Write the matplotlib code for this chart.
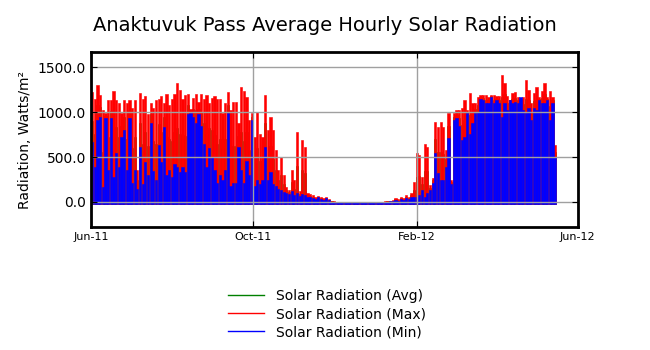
import matplotlib as mpl
mpl.use("Agg")
import matplotlib.pyplot as plt
import matplotlib.dates as mdates
from matplotlib.lines import Line2D
import numpy as np

# Two-day peak readings, starting 1 Jun 2011 (W/m^2)
start_date = np.datetime64("2011-06-01")
bin_days = 2

solar_max = [
    1220, 1150, 1300, 1190, 1020, 990, 1130, 1130, 1240, 1130, 1100, 990, 1130,
    1100, 1130, 1050, 1130, 360, 1210, 1150, 1180, 980, 1100, 1050, 1130,
    1150, 1180, 1100, 1200, 1080, 1150, 1200, 1320, 1250, 1150, 1190, 1200, 1040,
    1160, 1200, 1110, 1200, 1150, 1190, 1100, 1160, 1180, 1150, 1150, 990,
    1100, 1220, 1020, 1110, 1110, 880, 1280, 1240, 1170, 910, 990, 720, 1000,
    760, 720, 1190, 800, 950, 800, 580, 360, 500, 300, 170, 130,
    360, 250, 780, 120, 690, 610, 100, 90, 80, 60, 70, 50, 40, 50, 30, 10,
    8, 5, 3, 2, 0, 0, 0, 0, 0, 0, 0, 0, 0, 0, 0, 0, 0, 2, 4, 6, 10, 15, 20,
    40, 30, 55, 40, 80, 60, 100, 220, 540, 520, 280, 650, 610, 190, 270, 890,
    830, 890, 830, 580,
    990, 240, 990, 1020, 1020, 1050, 1130, 1020, 1210, 1100, 1100, 1170, 1190,
    1190, 1190, 1170, 1190, 1190, 1180, 1180, 1410, 1320,
    1180, 1130, 1210, 1220, 1170, 1140, 1170, 1360, 1250, 1100, 1210, 1280, 1170,
    1230, 1320, 1170, 1240, 1170, 630,
]

solar_min = [
    670, 390, 910, 950, 170, 930, 360, 930, 280, 540, 390, 720, 800, 360, 930,
    210, 360, 150, 610, 200, 450, 300, 880, 350, 240,
    630, 450, 830, 300, 360, 280, 420, 390, 330, 390, 330, 980, 990, 950, 880,
    980, 840, 650, 390, 600, 500, 360, 210, 300, 250,
    360, 990, 180, 210, 210, 610, 360, 210, 460, 300, 910, 180, 250, 200, 250,
    610, 250, 330, 200, 180, 150, 130, 110, 100, 90,
    120, 80, 100, 70, 90, 80, 60, 50, 40, 30, 50, 30, 20, 40, 20, 5,
    3, 2, 1, 0, 0, 0, 0, 0, 0, 0, 0, 0, 0, 0, 0, 0, 0, 0, 1, 2, 4, 6, 10,
    20, 10, 30, 20, 40, 30, 50, 60, 50, 80, 130, 60, 100, 130, 210, 540, 320,
    250, 250, 390,
    710, 200, 910, 930, 850, 690, 720, 990, 760, 880, 990, 1000, 1150, 1130,
    1100, 1100, 1170, 1100, 1130, 1100, 950, 1100,
    1020, 1130, 1100, 1110, 1100, 1170, 1020, 990, 1050, 910, 1050, 1020, 1130,
    1100, 1100, 1130, 910, 1100, 500,
]

solar_avg = [
    900, 760, 1080, 1060, 560, 960, 720, 1010, 720, 830, 720, 850, 940, 700,
    1010, 600, 720, 250, 880, 640, 780, 620, 980, 680, 650,
    870, 780, 940, 720, 700, 680, 780, 820, 760, 740, 730, 1080, 1010, 1040,
    1020, 1030, 1000, 880, 760, 820, 800, 740, 640, 700, 600,
    700, 1080, 560, 620, 620, 730, 780, 680, 780, 580, 940, 430, 600, 460, 460,
    880, 500, 620, 480, 360, 240, 300, 200, 130, 110,
    220, 150, 400, 90, 360, 320, 80, 70, 60, 45, 60, 40, 30, 45, 25, 8,
    5, 3, 2, 1, 0, 0, 0, 0, 0, 0, 0, 0, 0, 0, 0, 0, 0, 1, 2, 4, 7, 10, 15,
    30, 20, 40, 30, 60, 45, 75, 130, 280, 290, 200, 340, 340, 160, 240, 700,
    560, 560, 530, 480,
    850, 220, 950, 970, 930, 860, 910, 1000, 970, 990, 1040, 1080, 1170, 1160,
    1140, 1130, 1180, 1140, 1150, 1140, 1170, 1200,
    1100, 1130, 1150, 1160, 1130, 1150, 1090, 1150, 1140, 1000, 1120, 1140,
    1150, 1160, 1200, 1150, 1070, 1130, 560,
]

night_floor = -25  # sensor reads slightly negative at night

series = [
    ("Solar Radiation (Avg)", solar_avg, "green"),
    ("Solar Radiation (Max)", solar_max, "red"),
    ("Solar Radiation (Min)", solar_min, "blue"),
]

dates = start_date + np.arange(len(solar_max)) * np.timedelta64(bin_days, "D")
x = mdates.date2num(dates.astype("datetime64[s]").astype(object))

fig = plt.figure(figsize=(6.5, 3.5), dpi=100)
ax = fig.add_axes([0.14, 0.351, 0.749, 0.5])

handles = []
for label, vals, color in series:
    heights = np.array(vals) - night_floor
    ax.bar(x, heights, bottom=night_floor, width=bin_days * 0.85, align="edge",
           color=color, linewidth=0.4, edgecolor=color, zorder=2)
    handles.append(Line2D([], [], color=color, lw=1, label=label))

ax.set_xlim(mdates.datestr2num("2011-06-01"), mdates.datestr2num("2012-06-01"))
ax.set_ylim(-280, 1667)
ax.set_yticks([0, 500, 1000, 1500])
ax.yaxis.set_major_formatter(mpl.ticker.FormatStrFormatter("%.1f"))
ax.xaxis.set_major_locator(mdates.MonthLocator(bymonth=[2, 6, 10]))
ax.xaxis.set_major_formatter(mdates.DateFormatter("%b-%y"))
ax.tick_params(axis="x", labelsize=8, direction="in", top=True, length=4)
ax.tick_params(axis="y", labelsize=10, direction="in", right=True, length=4)
ax.grid(True, color="#a0a0a0", lw=1, zorder=3)
ax.set_axisbelow(False)
for sp in ax.spines.values():
    sp.set_linewidth(2)
    sp.set_zorder(4)

ax.set_ylabel("Radiation, Watts/m²", fontsize=10)
fig.suptitle("Anaktuvuk Pass Average Hourly Solar Radiation", fontsize=14, y=0.955)

fig.legend(handles=handles, loc="lower center", bbox_to_anchor=(0.503, -0.005),
           frameon=False, fontsize=10, handlelength=2.6, labelspacing=0.3)

fig.savefig("out.png", dpi=100)
